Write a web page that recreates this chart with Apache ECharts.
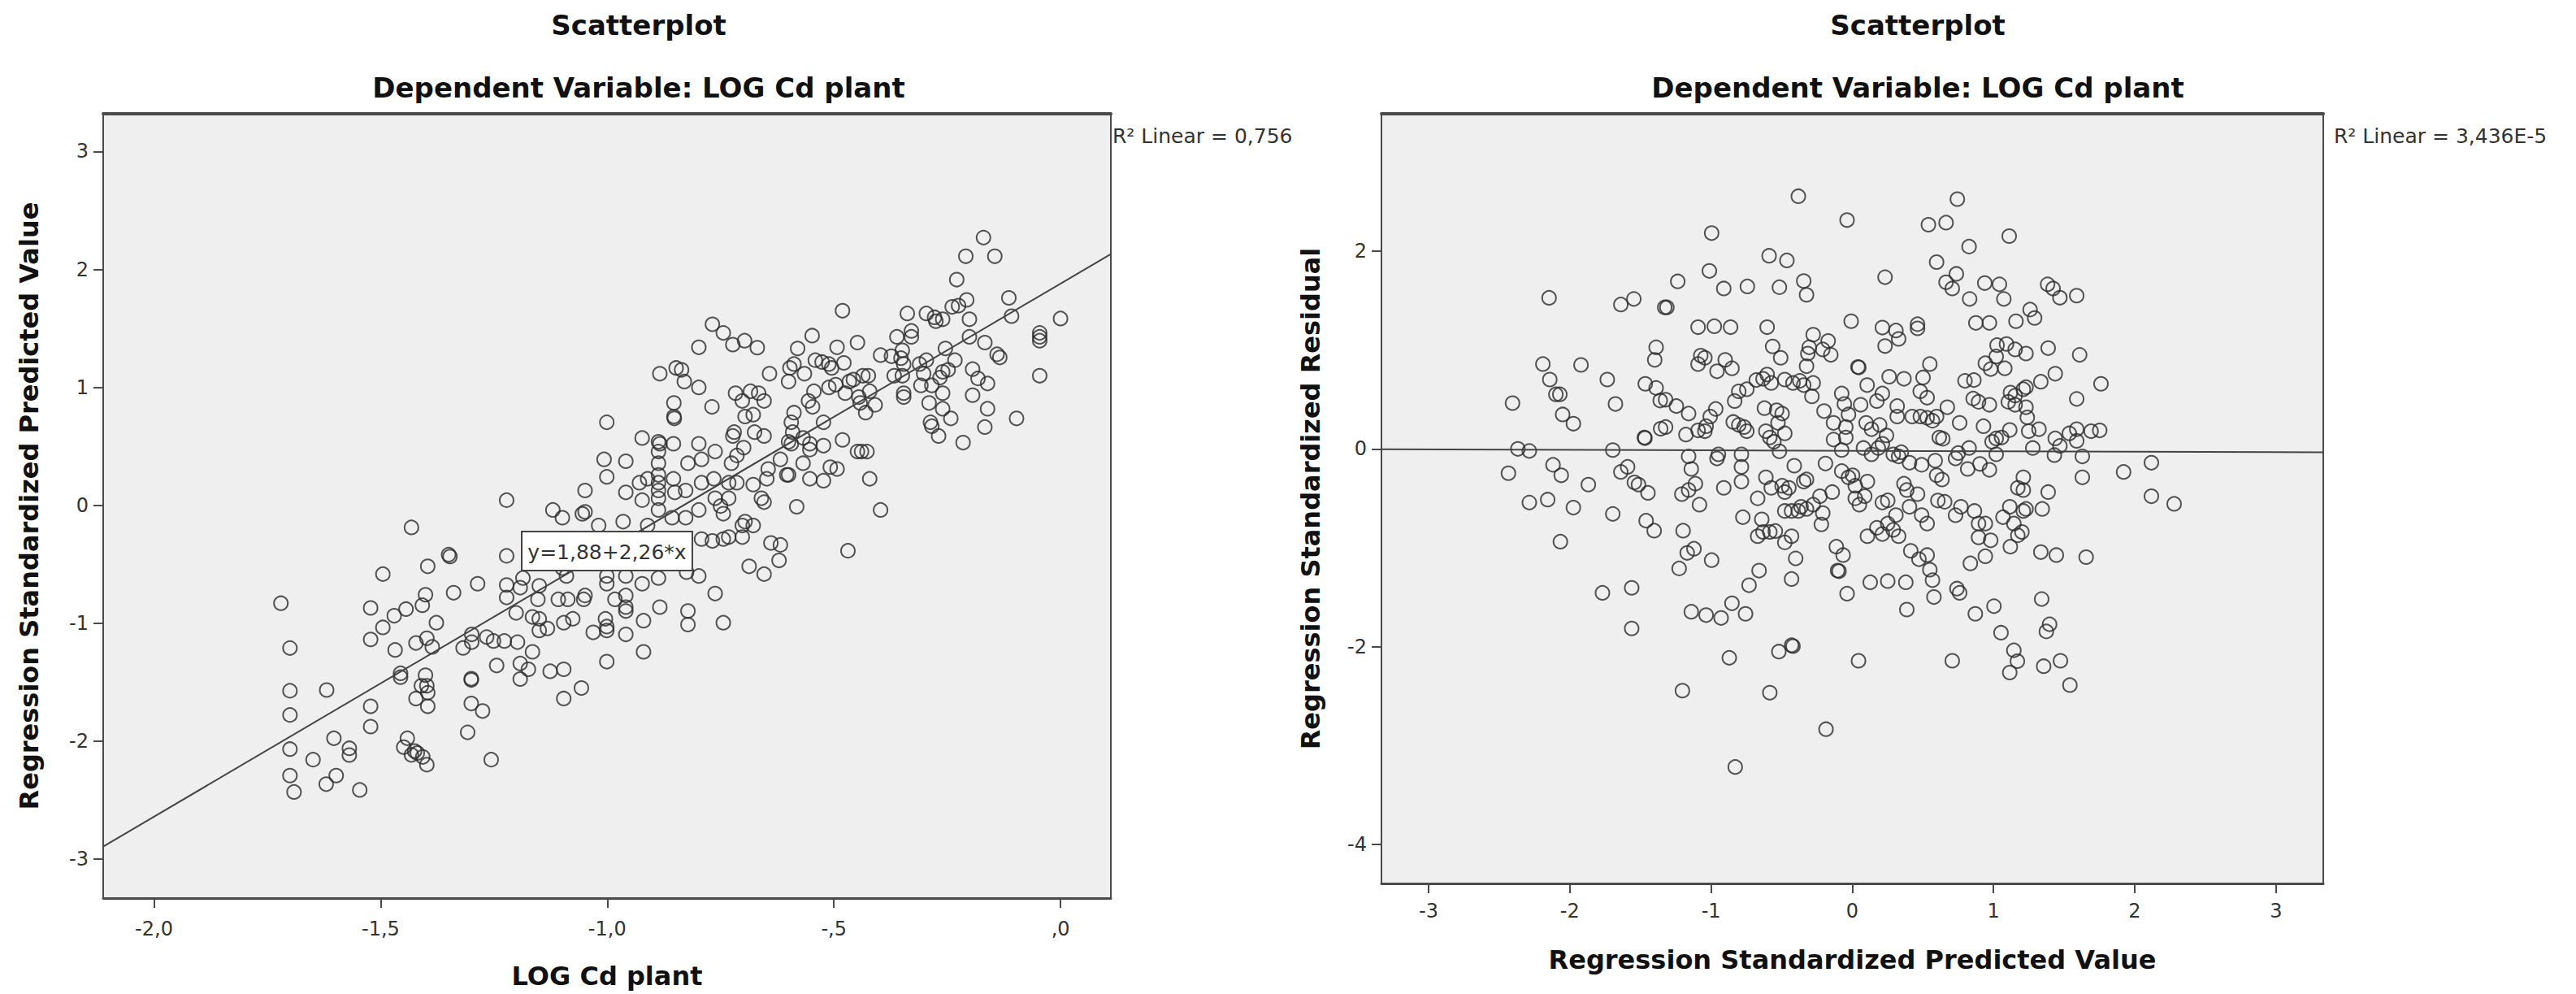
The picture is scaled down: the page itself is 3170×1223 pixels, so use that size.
<!DOCTYPE html>
<html>
<head>
<meta charset="utf-8">
<script src="https://cdn.jsdelivr.net/npm/echarts@6/dist/echarts.min.js"></script>
<style>
html,body{margin:0;padding:0;background:#fff;}
#c{width:3170px;height:1223px;}
</style>
</head>
<body>
<div id="c"></div>
<script>
// ---------- data ----------
const chartTitle = 'Scatterplot';
const chartSubtitle = 'Dependent Variable: LOG Cd plant';

// left panel: LOG Cd plant (x) vs Regression Standardized Predicted Value (y)
const leftPoints = [
[-1.720,-0.83],[-1.432,-0.187],[-1.495,-0.583],[-1.396,-0.517],[-1.350,-0.418],[-1.347,-0.434],
[-1.222,0.044],[-1.222,-0.428],[-1.286,-0.665],[-1.339,-0.741],[-1.401,-0.758],[-1.408,-0.847],
[-1.522,-0.870],[-1.470,-0.936],[-1.444,-0.880],[-1.495,-1.035],[-1.522,-1.137],[-1.468,-1.226],
[-1.422,-1.167],[-1.398,-1.127],[-1.386,-1.200],[-1.377,-0.995],[-1.222,-0.675],[-1.222,-0.781],
[-1.318,-1.209],[-1.299,-1.094],[-1.299,-1.160],[-1.266,-1.117],[-1.251,-1.150],[-1.227,-1.150],
[-1.244,-1.358],[-1.700,-1.210],[-1.700,-1.572],[-1.700,-1.777],[-1.700,-2.067],[-1.700,-2.291],
[-1.691,-2.430],[-1.649,-2.156],[-1.619,-1.566],[-1.603,-1.975],[-1.569,-2.060],[-1.569,-2.117],
[-1.598,-2.291],[-1.620,-2.364],[-1.546,-2.413],[-1.522,-1.704],[-1.522,-1.876],[-1.456,-1.424],
[-1.456,-1.457],[-1.401,-1.440],[-1.410,-1.530],[-1.398,-1.530],[-1.422,-1.638],[-1.396,-1.589],
[-1.396,-1.704],[-1.441,-1.975],[-1.449,-2.050],[-1.425,-2.083],[-1.419,-2.100],[-1.407,-2.133],
[-1.398,-2.199],[-1.432,-2.116],[-1.300,-1.480],[-1.300,-1.470],[-1.300,-1.680],[-1.275,-1.744],
[-1.308,-1.925],[-1.256,-2.156],
[-0.768,1.535],[-0.744,1.462],[-0.723,1.363],[-0.697,1.396],[-0.669,1.337],[-0.798,1.340],
[-0.884,1.116],[-0.848,1.165],[-0.836,1.149],[-0.830,1.050],[-0.798,1.000],[-0.853,0.868],
[-0.853,0.753],[-0.852,0.737],[-0.769,0.835],[-0.642,1.116],[-0.717,0.951],[-0.684,0.967],
[-0.666,0.951],[-0.654,0.885],[-0.702,0.885],[-1.001,0.704],[-0.923,0.571],[-0.887,0.539],
[-0.884,0.522],[-0.854,0.522],[-0.798,0.522],[-0.762,0.456],[-0.723,0.588],[-0.720,0.621],
[-0.696,0.753],[-0.678,0.769],[-0.675,0.621],[-0.654,0.588],[-0.699,0.489],[-1.007,0.390],
[-1.001,0.242],[-0.959,0.374],[-0.887,0.456],[-0.887,0.357],[-0.887,0.258],[-0.887,0.192],
[-0.887,0.126],[-0.887,0.060],[-0.887,-0.039],[-0.911,0.225],[-0.929,0.192],[-0.923,0.044],
[-0.854,0.225],[-0.851,0.110],[-0.822,0.357],[-0.827,0.126],[-0.792,0.390],[-0.792,0.192],
[-0.798,-0.039],[-0.765,0.225],[-0.762,0.060],[-0.750,-0.006],[-0.744,-0.071],[-0.732,0.192],
[-0.726,0.357],[-0.714,0.423],[-0.714,0.192],[-0.732,0.060],[-0.678,0.176],[-0.660,0.060],
[-0.654,0.027],[-0.645,0.308],[-0.648,0.225],[-0.604,0.258],[-0.618,0.390],[-1.049,0.126],
[-0.959,0.110],[-1.120,-0.039],[-1.099,-0.105],[-1.055,-0.072],[-1.049,-0.055],[-0.965,-0.138],
[-1.019,-0.171],[-0.911,-0.171],[-0.857,-0.105],[-0.827,-0.105],[-0.792,-0.286],[-0.768,-0.302],
[-0.744,-0.286],[-0.732,-0.269],[-0.702,-0.171],[-0.696,-0.138],[-0.678,-0.171],[-0.702,-0.269],
[-0.639,-0.319],[-0.618,-0.335],[-0.621,-0.467],[-0.687,-0.517],[-0.654,-0.583],[-0.798,-0.599],
[-0.825,-0.566],[-0.762,-0.748],[-0.822,-0.896],[-0.822,-1.011],[-0.744,-0.995],[-0.884,-0.863],
[-0.920,-1.242],[-1.001,-1.325],[-0.920,-0.978],[-0.959,-1.094],[-1.001,-1.028],[-1.001,-1.061],
[-1.004,-0.962],[-0.959,-0.764],[-0.959,-0.863],[-0.959,-0.896],[-0.959,-0.599],[-1.001,-0.599],
[-1.001,-0.665],[-0.923,-0.665],[-0.887,-0.616],[-0.983,-0.797],[-1.031,-1.077],[-1.049,-0.764],
[-1.052,-0.797],[-1.076,-0.962],[-1.096,-0.995],[-1.108,-0.797],[-1.087,-0.797],[-1.150,-0.682],
[-1.153,-0.797],[-1.165,-0.946],[-1.150,-0.962],[-1.132,-1.044],[-1.150,-1.061],[-1.198,-1.160],
[-1.165,-1.242],[-1.192,-1.341],[-1.174,-1.390],[-1.192,-1.473],[-1.126,-1.407],[-1.096,-1.390],
[-1.096,-1.638],[-1.057,-1.549],[-1.201,-0.912],[-1.192,-0.698],[-1.186,-0.616],[-1.090,-0.599],
[-1.099,-0.533],
[-0.170,2.270],[-0.209,2.112],[-0.145,2.112],[-0.229,1.914],[-0.207,1.742],[-0.225,1.693],
[-0.239,1.683],[-0.114,1.759],[-0.108,1.604],[0.000,1.584],[-0.046,1.462],[-0.046,1.429],
[-0.046,1.396],[-0.046,1.099],[-0.201,1.578],[-0.201,1.429],[-0.167,1.380],[-0.140,1.281],
[-0.134,1.254],[-0.275,1.561],[-0.278,1.594],[-0.260,1.578],[-0.296,1.627],[-0.338,1.627],
[-0.329,1.479],[-0.329,1.429],[-0.361,1.429],[-0.254,1.330],[-0.233,1.231],[-0.481,1.650],
[-0.548,1.439],[-0.580,1.330],[-0.493,1.340],[-0.448,1.380],[-0.397,1.274],[-0.373,1.264],
[-0.349,1.314],[-0.352,1.248],[-0.346,1.198],[-0.349,1.099],[-0.367,1.099],[-0.346,0.951],
[-0.346,0.918],[-0.311,1.198],[-0.296,1.231],[-0.302,1.116],[-0.308,1.017],[-0.284,1.017],
[-0.266,1.083],[-0.260,1.132],[-0.248,1.149],[-0.260,0.951],[-0.290,0.868],[-0.260,0.819],
[-0.242,0.737],[-0.287,0.704],[-0.284,0.671],[-0.269,0.588],[-0.215,0.532],[-0.194,1.155],
[-0.182,1.076],[-0.161,1.033],[-0.194,0.934],[-0.161,0.819],[-0.167,0.664],[-0.097,0.737],
[-0.588,1.198],[-0.597,1.165],[-0.565,1.116],[-0.600,1.050],[-0.541,1.231],[-0.526,1.215],
[-0.511,1.198],[-0.505,1.165],[-0.478,1.208],[-0.544,0.967],[-0.556,0.885],[-0.547,0.835],
[-0.511,1.000],[-0.496,1.023],[-0.475,0.951],[-0.466,1.050],[-0.457,1.066],[-0.436,1.099],
[-0.424,1.099],[-0.421,0.967],[-0.442,0.868],[-0.430,0.786],[-0.409,0.852],[-0.445,0.918],
[-0.588,0.786],[-0.594,0.704],[-0.591,0.621],[-0.600,0.539],[-0.594,0.522],[-0.568,0.572],
[-0.553,0.522],[-0.553,0.473],[-0.523,0.704],[-0.523,0.506],[-0.481,0.555],[-0.448,0.456],
[-0.439,0.456],[-0.427,0.456],[-0.568,0.357],[-0.600,0.258],[-0.553,0.225],[-0.523,0.209],
[-0.508,0.324],[-0.493,0.308],[-0.421,0.225],[-0.582,-0.012],[-0.397,-0.039],[-0.469,-0.385]
];

// right panel: Regression Standardized Predicted Value (x) vs Regression Standardized Residual (y)
const rightPoints = [
[-2.147,1.529],[-1.639,1.461],[-1.547,1.517],[-1.328,1.432],[-1.389,1.028],[-1.399,0.901],
[-2.191,0.859],[-1.921,0.850],[-2.142,0.702],[-2.099,0.553],[-2.071,0.553],[-2.406,0.464],
[-2.051,0.349],[-1.975,0.256],[-1.735,0.702],[-1.677,0.455],[-1.466,0.659],[-1.389,0.617],
[-1.360,0.490],[-1.357,0.205],[-1.472,0.116],[-1.468,0.110],[-2.368,0.001],[-2.287,-0.020],
[-1.696,-0.011],[-2.435,-0.245],[-2.119,-0.160],[-2.061,-0.266],[-1.869,-0.360],[-1.591,-0.181],
[-1.639,-0.232],[-1.543,-0.338],[-1.514,-0.360],[-1.447,-0.444],[-2.287,-0.542],[-2.157,-0.512],
[-1.975,-0.593],[-1.696,-0.657],[-1.460,-0.725],[-1.403,-0.826],[-2.067,-0.937],[-1.769,-1.455],
[-1.562,-1.404],[-1.562,-1.815],
[-0.382,2.556],[-0.037,2.315],[0.539,2.268],[-0.996,2.183],[-0.589,1.954],[-0.463,1.907],
[-1.012,1.801],[-1.236,1.695],[-0.910,1.623],[-0.743,1.644],[-0.516,1.636],[-0.344,1.699],
[-0.324,1.559],[0.232,1.737],[0.597,1.890],[-1.313,1.432],[-1.092,1.232],[-0.977,1.241],
[-0.862,1.232],[-0.603,1.232],[-0.564,1.037],[-0.507,0.922],[-0.277,1.156],[-0.305,1.028],
[-0.315,0.965],[-0.324,0.837],[-0.171,1.092],[-0.152,0.952],[-0.209,1.007],[-0.008,1.292],
[0.040,0.829],[0.046,0.825],[0.213,1.228],[0.309,1.198],[0.328,1.113],[0.232,1.041],
[0.462,1.262],[0.462,1.220],[0.549,0.859],[0.501,0.723],[0.481,0.583],[0.530,0.519],
[-1.073,0.944],[-1.092,0.859],[-1.044,0.922],[-0.900,0.901],[-0.852,0.816],[-0.958,0.786],
[-1.246,0.434],[-1.159,0.358],[-1.322,0.498],[-1.322,0.222],[-0.967,0.405],[-1.006,0.328],
[-1.092,0.188],[-1.044,0.180],[-1.035,0.230],[-1.178,0.146],[-0.843,0.273],[-0.804,0.243],
[-0.766,0.222],[-0.747,0.180],[-0.833,0.485],[-0.804,0.583],[-0.747,0.604],[-0.680,0.697],
[-0.632,0.710],[-0.603,0.753],[-0.574,0.668],[-0.478,0.702],[-0.420,0.668],[-0.372,0.689],
[-0.344,0.646],[-0.277,0.668],[-0.286,0.532],[-0.622,0.413],[-0.536,0.392],[-0.497,0.358],
[-0.478,0.158],[-0.526,0.264],[-0.612,0.180],[-0.584,0.116],[-0.555,0.073],[-0.516,-0.024],
[-0.200,0.383],[-0.133,0.264],[-0.133,0.095],[-0.075,-0.011],[-0.075,0.561],[-0.056,0.455],
[-0.027,0.349],[-0.046,0.222],[-0.046,0.116],[0.059,0.447],[0.105,0.646],[0.174,0.485],
[0.213,0.561],[0.261,0.731],[0.366,0.710],[0.318,0.434],[0.318,0.328],[0.098,0.264],
[0.136,0.200],[0.194,0.243],[0.242,0.137],[0.079,0.010],[0.136,-0.054],[0.184,0.010],
[0.213,0.052],[0.290,-0.054],[0.328,-0.075],[0.347,-0.033],[0.405,-0.139],[0.424,0.328],
[0.482,0.328],[0.530,0.315],[0.568,0.286],[0.597,0.328],[0.616,0.116],[0.491,-0.160],
[0.587,-0.118],[-1.159,-0.075],[-1.140,-0.202],[-1.111,-0.351],[-0.948,-0.054],[-0.958,-0.096],
[-0.785,-0.054],[-0.785,-0.181],[-0.785,-0.330],[-0.910,-0.393],[-1.207,-0.457],[-1.159,-0.415],
[-1.082,-0.563],[-0.670,-0.499],[-0.612,-0.287],[-0.574,-0.393],[-0.497,-0.372],[-0.478,-0.436],
[-0.449,-0.393],[-0.411,-0.169],[-0.344,-0.330],[-0.324,-0.308],[-0.363,-0.585],[-0.324,-0.606],
[-0.277,-0.563],[-0.229,-0.478],[-0.142,-0.436],[-0.478,-0.627],[-0.430,-0.627],[-0.382,-0.627],
[-0.209,-0.648],[-0.219,-0.763],[-0.190,-0.147],[-0.775,-0.690],[-0.641,-0.712],[-0.670,-0.882],
[-0.632,-0.839],[-0.584,-0.839],[-0.545,-0.830],[-0.478,-0.945],[-0.430,-0.882],[-1.198,-0.826],
[-1.169,-1.051],[-1.121,-1.009],[-1.226,-1.208],[-0.996,-1.124],[-0.660,-1.230],[-0.731,-1.378],
[-0.401,-1.107],[-0.430,-1.315],[-0.113,-0.988],[-0.065,-1.073],[-0.104,-1.230],[-0.094,-1.236],
[-0.037,-1.463],[-0.075,-0.224],[-0.027,-0.287],[0.002,-0.266],[0.021,-0.372],[0.021,-0.499],
[0.050,-0.563],[0.088,-0.478],[0.107,-0.330],[0.107,-0.882],[0.174,-0.797],[0.213,-0.860],
[0.251,-0.754],[0.290,-0.818],[0.328,-0.882],[0.213,-0.542],[0.251,-0.520],[0.309,-0.669],
[0.366,-0.351],[0.386,-0.415],[0.405,-0.585],[0.462,-0.457],[0.491,-0.669],[0.530,-0.754],
[0.414,-1.030],[0.472,-1.115],[0.530,-1.073],[0.549,-1.221],[0.568,-1.327],[0.578,-1.497],
[0.127,-1.348],[0.251,-1.336],[0.379,-1.348],[0.386,-1.624],[-1.140,-1.646],[-1.035,-1.680],
[-0.929,-1.709],[-0.852,-1.561],[-0.756,-1.667],[-0.871,-2.112],[-0.520,-2.049],[-0.430,-1.985],
[-0.420,-1.994],[0.044,-2.142],[-1.203,-2.444],[-0.584,-2.465],[-0.186,-2.834],[-0.829,-3.216],
[0.744,2.527],[0.664,2.289],[1.111,2.153],[0.827,2.047],[0.737,1.771],[0.664,1.686],
[0.708,1.623],[0.938,1.678],[1.042,1.665],[0.831,1.517],[1.073,1.517],[1.383,1.665],
[1.422,1.623],[1.470,1.530],[1.589,1.551],[0.875,1.275],[0.971,1.275],[1.159,1.292],
[1.259,1.410],[1.291,1.325],[1.025,1.050],[1.092,1.062],[1.153,1.007],[1.230,0.965],
[1.387,1.020],[1.610,0.952],[0.942,0.867],[0.980,0.808],[1.019,0.935],[1.080,0.816],
[0.798,0.689],[0.861,0.697],[1.120,0.570],[1.153,0.540],[1.211,0.604],[1.230,0.625],
[1.335,0.680],[1.437,0.761],[1.761,0.659],[1.589,0.506],[0.856,0.510],[0.894,0.477],
[0.971,0.447],[1.105,0.477],[1.153,0.447],[1.230,0.422],[1.239,0.320],[0.673,0.422],
[0.760,0.264],[0.929,0.230],[1.115,0.192],[1.057,0.116],[1.019,0.107],[0.990,0.073],
[0.641,0.103],[1.249,0.180],[1.322,0.200],[1.278,0.010],[1.437,0.107],[1.470,0.031],
[1.431,-0.062],[1.537,0.158],[1.589,0.200],[1.589,0.082],[1.629,-0.075],[1.691,0.180],
[1.752,0.188],[0.827,0.010],[0.750,-0.041],[0.731,-0.096],[1.019,-0.054],[0.971,-0.211],
[0.904,-0.151],[0.817,-0.202],[0.597,-0.266],[0.635,-0.309],[1.629,-0.287],[1.921,-0.232],
[2.118,-0.139],[2.118,-0.478],[2.279,-0.555],[1.211,-0.287],[1.172,-0.393],[1.211,-0.415],
[1.387,-0.436],[0.606,-0.521],[0.654,-0.534],[0.731,-0.670],[0.769,-0.585],[0.865,-0.627],
[0.894,-0.754],[0.942,-0.754],[1.067,-0.690],[1.115,-0.585],[1.211,-0.627],[1.230,-0.606],
[1.345,-0.606],[1.144,-0.754],[1.201,-0.839],[1.172,-0.873],[0.894,-0.894],[0.980,-0.924],
[1.119,-0.988],[0.942,-1.085],[0.836,-1.157],[1.335,-1.043],[1.445,-1.073],[1.656,-1.094],
[0.741,-1.412],[0.760,-1.455],[0.871,-1.667],[1.003,-1.590],[1.341,-1.518],[1.053,-1.858],
[1.397,-1.773],[1.374,-1.845],[1.144,-2.036],[1.169,-2.146],[1.115,-2.261],[1.355,-2.197],
[1.474,-2.142],[0.708,-2.142],[1.541,-2.388]
];

// fit lines
const leftFit = { intercept: 1.88, slope: 2.26 };
const rightFit = { intercept: -0.018, slope: -0.0045 };
const leftFitLabel = 'y=1,88+2,26*x';
const leftR2Label = 'R² Linear = 0,756';
const rightR2Label = 'R² Linear = 3,436E-5';

// axes
const leftXRange = [-2.112, 0.111];
const leftYRange = [-3.33, 3.32];
const rightXRange = [-3.334, 3.335];
const rightYRange = [-4.394, 3.39];
const leftXTicks = [-2, -1.5, -1, -0.5, 0];
const leftXTickLabels = ['-2,0', '-1,5', '-1,0', '-,5', ',0'];
const leftYTicks = [-3, -2, -1, 0, 1, 2, 3];
const leftYTickLabels = ['-3', '-2', '-1', '0', '1', '2', '3'];
const rightXTicks = [-3, -2, -1, 0, 1, 2, 3];
const rightXTickLabels = ['-3', '-2', '-1', '0', '1', '2', '3'];
const rightYTicks = [-4, -2, 0, 2];
const rightYTickLabels = ['-4', '-2', '0', '2'];
const leftXName = 'LOG Cd plant';
const leftYName = 'Regression Standardized Predicted Value';
const rightXName = 'Regression Standardized Predicted Value';
const rightYName = 'Regression Standardized Residual';

// ---------- chart ----------
const FONT = '"DejaVu Sans", "Liberation Sans", sans-serif';
const FRAME = '#4a4a4a';
const chart = echarts.init(document.getElementById('c'), null, { renderer: 'svg' });

function labelFor(ticks, labels) {
  return function (v) {
    for (let i = 0; i < ticks.length; i++) if (Math.abs(ticks[i] - v) < 1e-9) return labels[i];
    return '';
  };
}
function fitLine(fit, range) {
  return [[range[0], fit.intercept + fit.slope * range[0]], [range[1], fit.intercept + fit.slope * range[1]]];
}
function valueAxis(gridIndex, range, ticks, labels, name, nameGap, isX, labelMargin) {
  return {
    type: 'value', gridIndex, min: range[0], max: range[1],
    position: isX ? 'bottom' : 'left',
    name, nameLocation: 'middle', nameGap,
    nameTextStyle: { fontFamily: FONT, fontWeight: 'bold', fontSize: 32, color: '#111' },
    axisLine: { show: true, onZero: false, lineStyle: { color: FRAME, width: isX ? 3 : 2 } },
    axisTick: { show: true, inside: false, length: 12, customValues: ticks, lineStyle: { color: FRAME, width: 2 } },
    axisLabel: { show: true, margin: labelMargin, customValues: ticks, formatter: labelFor(ticks, labels),
      fontFamily: FONT, fontSize: 24, color: '#333' },
    splitLine: { show: false }
  };
}
function topFrameAxis(gridIndex, range) {
  return {
    type: 'value', gridIndex, min: range[0], max: range[1], position: 'top',
    axisLine: { show: true, onZero: false, lineStyle: { color: FRAME, width: 4 } },
    axisTick: { show: false }, axisLabel: { show: false }, splitLine: { show: false }
  };
}

const scatterStyle = { color: 'rgba(0,0,0,0)', borderColor: '#2a2a2a', borderWidth: 2 };

chart.setOption({
  backgroundColor: '#ffffff',
  animation: false,
  grid: [
    { left: 127, top: 140, width: 1240, height: 965, show: true, backgroundColor: '#efefef', borderColor: FRAME, borderWidth: 2 },
    { left: 1700, top: 140, width: 1159, height: 947, show: true, backgroundColor: '#efefef', borderColor: FRAME, borderWidth: 2 }
  ],
  xAxis: [
    valueAxis(0, leftXRange, leftXTicks, leftXTickLabels, leftXName, 80, true, 26),
    valueAxis(1, rightXRange, rightXTicks, rightXTickLabels, rightXName, 78, true, 22),
    topFrameAxis(0, leftXRange),
    topFrameAxis(1, rightXRange)
  ],
  yAxis: [
    valueAxis(0, leftYRange, leftYTicks, leftYTickLabels, leftYName, 75, false, 18),
    valueAxis(1, rightYRange, rightYTicks, rightYTickLabels, rightYName, 71, false, 18)
  ],
  series: [
    { type: 'scatter', xAxisIndex: 0, yAxisIndex: 0, data: leftPoints, symbol: 'circle', symbolSize: 17,
      itemStyle: scatterStyle, z: 3 },
    { type: 'line', xAxisIndex: 0, yAxisIndex: 0, data: fitLine(leftFit, leftXRange), symbol: 'none',
      lineStyle: { color: '#444', width: 2 }, z: 4 },
    { type: 'scatter', xAxisIndex: 1, yAxisIndex: 1, data: rightPoints, symbol: 'circle', symbolSize: 17,
      itemStyle: scatterStyle, z: 3 },
    { type: 'line', xAxisIndex: 1, yAxisIndex: 1, data: fitLine(rightFit, rightXRange), symbol: 'none',
      lineStyle: { color: '#444', width: 2 }, z: 4 }
  ],
  graphic: [
    { type: 'text', x: 786, y: 31, z: 10, style: { text: chartTitle, font: 'bold 34px ' + FONT, fill: '#111', align: 'center', verticalAlign: 'middle', textAlign: 'center', textVerticalAlign: 'middle' } },
    { type: 'text', x: 786, y: 108, z: 10, style: { text: chartSubtitle, font: 'bold 34px ' + FONT, fill: '#111', align: 'center', verticalAlign: 'middle', textAlign: 'center', textVerticalAlign: 'middle' } },
    { type: 'text', x: 2360, y: 31, z: 10, style: { text: chartTitle, font: 'bold 34px ' + FONT, fill: '#111', align: 'center', verticalAlign: 'middle', textAlign: 'center', textVerticalAlign: 'middle' } },
    { type: 'text', x: 2360, y: 108, z: 10, style: { text: chartSubtitle, font: 'bold 34px ' + FONT, fill: '#111', align: 'center', verticalAlign: 'middle', textAlign: 'center', textVerticalAlign: 'middle' } },
    { type: 'text', x: 1369, y: 167, z: 10, style: { text: leftR2Label, font: '25px ' + FONT, fill: '#333', align: 'left', verticalAlign: 'middle', textAlign: 'left', textVerticalAlign: 'middle' } },
    { type: 'text', x: 2872, y: 167, z: 10, style: { text: rightR2Label, font: '25px ' + FONT, fill: '#333', align: 'left', verticalAlign: 'middle', textAlign: 'left', textVerticalAlign: 'middle' } },
    { type: 'rect', z: 10, shape: { x: 642, y: 654, width: 210, height: 48 }, style: { fill: '#ffffff', stroke: '#444', lineWidth: 2 } },
    { type: 'text', x: 747, y: 679, z: 11, style: { text: leftFitLabel, font: '25px ' + FONT, fill: '#333', align: 'center', verticalAlign: 'middle', textAlign: 'center', textVerticalAlign: 'middle' } }
  ]
});
</script>
</body>
</html>
